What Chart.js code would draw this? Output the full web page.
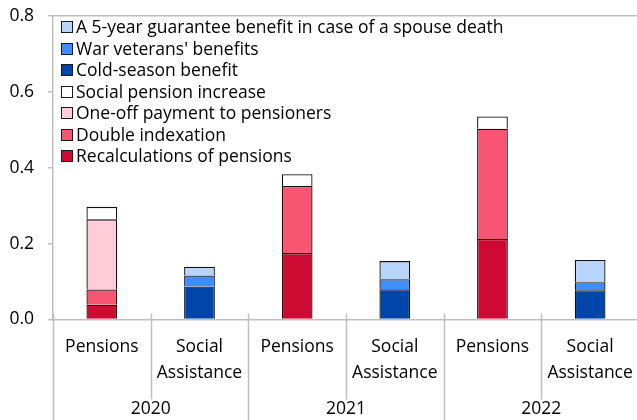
<!DOCTYPE html>
<html>
<head>
<meta charset="utf-8">
<script src="https://cdn.jsdelivr.net/npm/chart.js@4.4.1/dist/chart.umd.min.js"></script>
<style>
  html, body { margin: 0; padding: 0; background: #fff; overflow: hidden; }
  #wrap { position: relative; width: 648px; height: 420px; }
</style>
</head>
<body>
<div id="wrap"><canvas id="benefits-chart"></canvas></div>
<script>
/*
 * Data: cost of pension and social assistance measures, by year
**/
const categories = [
  ['Pensions'], ['Social', 'Assistance'],
  ['Pensions'], ['Social', 'Assistance'],
  ['Pensions'], ['Social', 'Assistance']
]
const years = ['2020', '2021', '2022']
const yTicks = [0, 0.2, 0.4, 0.6, 0.8]

const recalculations = [0.039, null, 0.175, null, 0.212, null]
const doubleIndexation = [0.040, null, 0.177, null, 0.291, null]
const oneOffPayment = [0.185, null, null, null, null, null]
const socialPension = [0.033, null, 0.031, null, 0.032, null]
const coldSeason = [null, 0.087, null, 0.080, null, 0.077]
const warVeterans = [null, 0.029, null, 0.026, null, 0.021]
const guarantee = [null, 0.023, null, 0.048, null, 0.059]

const FONT = '"Open Sans", "Noto Sans", sans-serif'
const FONT_SIZE = 17.5
const AXIS_GREY = '#bfbfbf'

// Legend drawn inside the plot, top-left, last series first
const insideLegend = {
  id: 'insideLegend',
  afterDraw(chart, args, opts) {
    const { ctx, chartArea } = chart
    const items = chart.data.datasets.slice().reverse()
    const x = chartArea.left + opts.left
    ctx.save()
    ctx.font = `${opts.size}px ${FONT}`
    ctx.textBaseline = 'middle'
    items.forEach((ds, i) => {
      const y = Math.round(chartArea.top + opts.top + i * opts.rowHeight)
      ctx.fillStyle = ds.backgroundColor
      ctx.fillRect(x, y - 6, 12, 12)
      ctx.strokeStyle = '#1a1a1a'
      ctx.lineWidth = 1
      ctx.strokeRect(x + 0.5, y - 5.5, 11, 11)
      ctx.fillStyle = '#000'
      ctx.fillText(ds.label, x + 15, y + 1)
    })
    ctx.restore()
  }
}

// Dividers between the category labels and between the years
const categoryDividers = {
  id: 'categoryDividers',
  afterDraw(chart) {
    const { ctx, chartArea } = chart
    const step = (chartArea.right - chartArea.left) / categories.length
    ctx.save()
    ctx.strokeStyle = AXIS_GREY
    ctx.lineWidth = 1.5
    for (let i = 0; i <= categories.length; i++) {
      const x = Math.round(chartArea.left + i * step) + 0.5
      const bottom = i % 2 === 0 ? chart.height : chartArea.bottom + 80
      ctx.beginPath()
      ctx.moveTo(x, chartArea.bottom - 6)
      ctx.lineTo(x, bottom)
      ctx.stroke()
    }
    ctx.restore()
  }
}

class BenefitsChart {
  get canvas() {
    return document.getElementById('benefits-chart')
  }

  get config() {
    return {
      type: 'bar',
      data: this.data,
      options: this.options,
      plugins: [categoryDividers, insideLegend]
    }
  }

  get data() {
    return {
      labels: categories,
      datasets: this.datasets
    }
  }

  get datasets() {
    const series = [
      ['Recalculations of pensions', recalculations, '#cc0a32'],
      ['Double indexation', doubleIndexation, '#f75571'],
      ['One-off payment to pensioners', oneOffPayment, '#ffccd8'],
      ['Social pension increase', socialPension, '#ffffff'],
      ['Cold-season benefit', coldSeason, '#0045aa'],
      ["War veterans' benefits", warVeterans, '#3f8cfc'],
      ['A 5-year guarantee benefit in case of a spouse death', guarantee, '#b8d5ff']
    ]

    return series.map(([label, values, color]) => ({
      label: label,
      data: values,
      backgroundColor: color,
      borderColor: '#111',
      borderWidth: 1.3,
      barPercentage: 0.315,
      categoryPercentage: 1
    }))
  }

  get options() {
    return {
      responsive: true,
      maintainAspectRatio: false,
      animation: false,
      layout: { padding: { top: 16, right: 2, left: 0, bottom: 0 } },
      scales: {
        x: {
          stacked: true,
          offset: true,
          afterFit: (scale) => { scale.height = 64 },
          grid: { display: false, drawTicks: false },
          border: { color: AXIS_GREY, width: 1.5 },
          ticks: {
            color: '#000',
            padding: 15,
            maxRotation: 0,
            autoSkip: false,
            font: { family: FONT, size: FONT_SIZE, lineHeight: 1.45 }
          }
        },
        years: {
          type: 'category',
          labels: years,
          position: 'bottom',
          offset: true,
          grid: { display: false, drawTicks: false },
          border: { display: false },
          afterFit: (scale) => { scale.height = 36.5 },
          ticks: {
            color: '#000',
            padding: 17,
            font: { family: FONT, size: FONT_SIZE, lineHeight: 1 }
          }
        },
        y: {
          stacked: true,
          min: 0,
          max: 0.8,
          afterFit: (scale) => {
            scale.width = 53
            scale.paddingTop = 0
            scale.paddingBottom = 0
          },
          afterBuildTicks: (scale) => { scale.ticks = yTicks.map(v => ({ value: v })) },
          border: { color: AXIS_GREY, width: 1.5 },
          grid: {
            color: ctx => ctx.tick && ctx.tick.value === 0.8 ? AXIS_GREY : 'rgba(0,0,0,0)',
            tickColor: AXIS_GREY,
            tickLength: 5,
            lineWidth: 1.5
          },
          ticks: {
            color: '#000',
            padding: 14,
            font: { family: FONT, size: FONT_SIZE },
            callback: value => value.toFixed(1)
          }
        }
      },
      plugins: {
        legend: { display: false },
        tooltip: { enabled: false },
        insideLegend: { left: 8, top: 11, rowHeight: 21.5, size: FONT_SIZE }
      }
    }
  }

  render() {
    return new Chart(this.canvas, this.config)
  }
}

new BenefitsChart().render()
</script>
</body>
</html>
